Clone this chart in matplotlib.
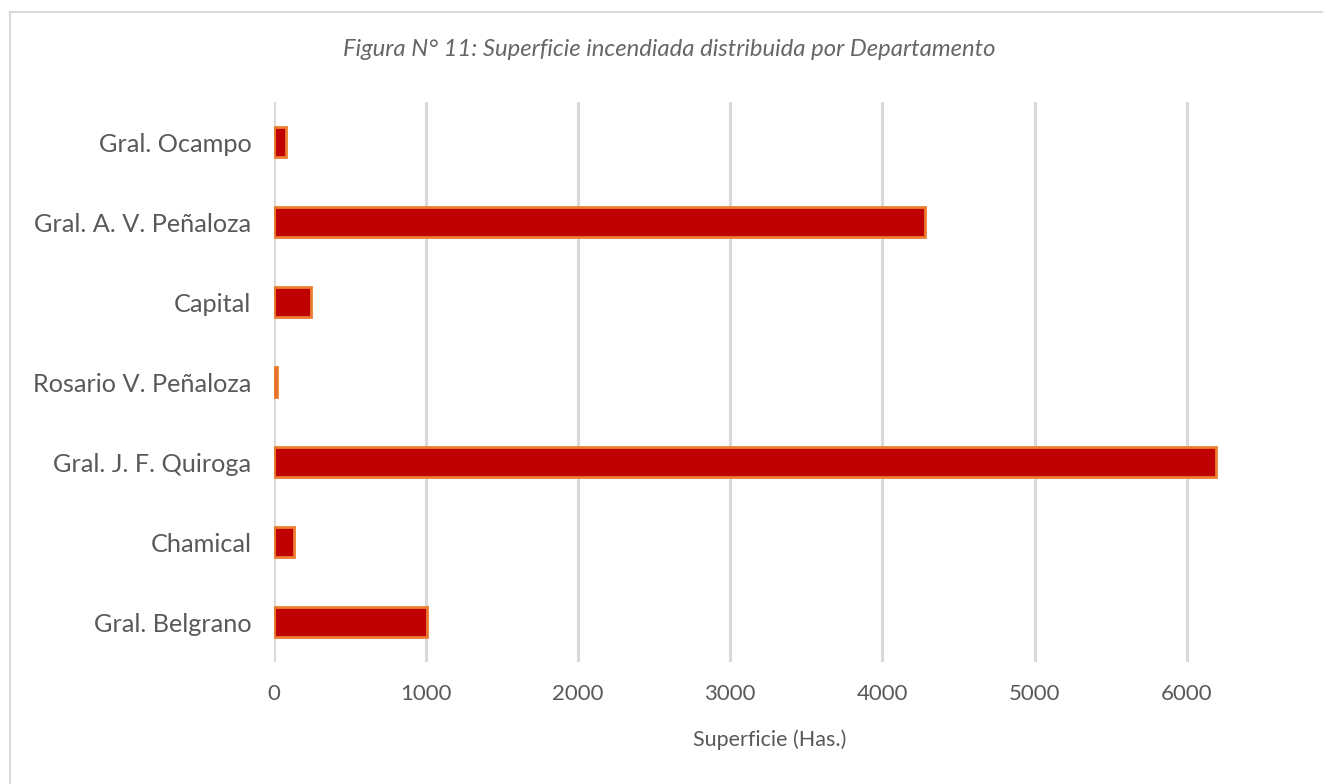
import matplotlib
matplotlib.use("Agg")
import matplotlib.pyplot as plt
from matplotlib.lines import Line2D

categories = ["Gral. Belgrano", "Chamical", "Gral. J. F. Quiroga", "Rosario V. Peñaloza",
              "Capital", "Gral. A. V. Peñaloza", "Gral. Ocampo"]
values = [1010, 135, 6195, 20, 245, 4280, 85]
xticks = [0, 1000, 2000, 3000, 4000, 5000, 6000]
title = "Figura N° 11: Superficie incendiada distribuida por Departamento"
xlabel = "Superficie (Has.)"

W, H = 1323, 784
fig = plt.figure(figsize=(W / 100, H / 100), dpi=100)
gray = "#595959"
grid = "#d9d9d9"

left = 273.5 / W
right = 1339 / W
bottom = 1 - 662 / H
top = 1 - 102 / H
ax = fig.add_axes([left, bottom, right - left, top - bottom])

ax.barh(range(len(categories)), values, height=0.37, color="#c00000",
        edgecolor="#ed7d31", linewidth=2.0, zorder=3)
ax.set_xlim(0, 7000)
ax.set_ylim(-0.5, len(categories) - 0.5)
ax.set_xticks(xticks)
ax.set_xticklabels([str(t) for t in xticks], fontsize=16, color=gray, family="Lato")
ax.set_yticks(range(len(categories)))
ax.set_yticklabels(categories, fontsize=18.2, color=gray, family="Lato")
ax.tick_params(axis="both", length=0)
ax.tick_params(axis="y", pad=16)
ax.tick_params(axis="x", pad=16)
for s in ax.spines.values():
    s.set_visible(False)
ax.xaxis.grid(True, color=grid, linewidth=2.2, zorder=0)
ax.set_axisbelow(True)

fig.text(669 / W, 1 - 50 / H, title, ha="center", va="center", fontsize=17.2,
         style="italic", color="#666666", family="Lato")
fig.text(770 / W, 1 - 740 / H, xlabel, ha="center", va="center", fontsize=15.5,
         color=gray, family="Lato")

# outer frame (top and left edges visible)
fig.add_artist(Line2D([10 / W, 1.0], [1 - 12 / H, 1 - 12 / H], transform=fig.transFigure,
                      color=grid, linewidth=1.5))
fig.add_artist(Line2D([10 / W, 10 / W], [0, 1 - 12 / H], transform=fig.transFigure,
                      color=grid, linewidth=1.5))

fig.savefig("out.png", dpi=100)
